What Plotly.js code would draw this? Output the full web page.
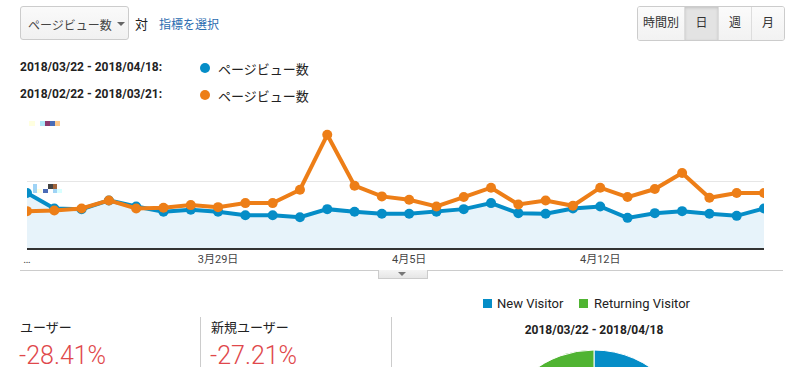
<!DOCTYPE html>
<html><head><meta charset="utf-8">
<script src="https://cdn.plot.ly/plotly-3.0.1.min.js"></script>
<style>
html,body{margin:0;padding:0;width:802px;height:367px;overflow:hidden;background:#fff;font-family:Roboto,"Noto Sans CJK JP",Arial,sans-serif;color:#222;}
.abs{position:absolute;white-space:nowrap;}
#dd{left:20px;top:6px;width:107px;height:32px;border:1px solid #ccc;border-radius:3px;background:linear-gradient(#fafafa,#f1f1f1);font-size:12px;color:#444;}
#dd span{position:absolute;left:7px;top:9px;}
#dd i{position:absolute;left:96px;top:15px;width:0;height:0;border-left:4px solid transparent;border-right:4px solid transparent;border-top:4px solid #666;}
#btns{left:637px;top:6px;height:33px;border:1px solid #ccc;border-radius:3px;display:flex;overflow:hidden;font-size:12px;color:#333;}
#btns div{height:33px;line-height:33px;text-align:center;border-left:1px solid #ddd;background:linear-gradient(#fbfbfb,#f2f2f2);}
#btns div:first-child{border-left:none;}
#btns div.on{background:#e3e3e3;box-shadow:inset 0 1px 3px rgba(0,0,0,.15);}
.dl{font-size:12px;font-weight:bold;color:#222;}
.dot{width:10px;height:10px;border-radius:50%;}
.lg{font-size:13px;color:#222;}
.px{position:absolute;}
.big{font-size:25px;line-height:20px;color:#e0484b;font-weight:300;}
</style></head>
<body>
<div id="dd" class="abs"><span>ページビュー数</span><i></i></div>
<div class="abs" style="left:135px;top:14px;font-size:13px;color:#222;">対</div>
<div class="abs" style="left:159px;top:15px;font-size:12px;color:#2b6cb0;">指標を選択</div>
<div id="btns" class="abs"><div style="width:46px">時間別</div><div class="on" style="width:33px">日</div><div style="width:32px">週</div><div style="width:32px">月</div></div>

<div class="abs dl" style="left:20px;top:60px;">2018/03/22 - 2018/04/18:</div>
<div class="abs dot" style="left:200px;top:63px;background:#058dc7;"></div>
<div class="abs lg" style="left:218px;top:59px;">ページビュー数</div>
<div class="abs dl" style="left:20px;top:87px;">2018/02/22 - 2018/03/21:</div>
<div class="abs dot" style="left:200px;top:90px;background:#ed7e17;"></div>
<div class="abs lg" style="left:218px;top:86px;">ページビュー数</div>

<div id="chart" class="abs" style="left:0;top:100px;width:802px;height:170px;"></div>

<!-- obfuscated axis labels -->
<div class="px" style="left:29px;top:121px;width:6px;height:5px;background:#ffffe0"></div>
<div class="px" style="left:40px;top:121px;width:5px;height:5px;background:#aee6f8"></div>
<div class="px" style="left:45px;top:121px;width:5px;height:5px;background:#8b3a6e"></div>
<div class="px" style="left:50px;top:121px;width:5px;height:5px;background:#4b6cb7"></div>
<div class="px" style="left:55px;top:121px;width:5px;height:5px;background:#ffc98b"></div>
<div class="px" style="left:33px;top:184px;width:4px;height:9px;background:#9fd3f5"></div>
<div class="px" style="left:37px;top:189px;width:5px;height:4px;background:#ffffe0"></div>
<div class="px" style="left:43px;top:189px;width:5px;height:4px;background:#4b6cb7"></div>
<div class="px" style="left:48px;top:184px;width:5px;height:5px;background:#444"></div>
<div class="px" style="left:53px;top:184px;width:4px;height:5px;background:#a0643c"></div>
<div class="px" style="left:53px;top:189px;width:4px;height:4px;background:#9fd3f5"></div>
<div class="px" style="left:57px;top:189px;width:5px;height:4px;background:#d8ffff"></div>

<div class="px" style="left:20px;top:270px;width:763px;height:1px;background:#ccc"></div>
<div class="px" style="left:378px;top:270px;width:48px;height:8px;background:linear-gradient(#f4f4f4,#e6e6e6);border:1px solid #ccc;border-top:none;"></div>
<div class="px" style="left:398px;top:272px;width:0;height:0;border-left:4px solid transparent;border-right:4px solid transparent;border-top:4px solid #777;"></div>

<div class="abs" style="left:20px;top:317px;font-size:13px;color:#222;">ユーザー</div>
<div class="abs big" style="left:19px;top:346px;">-28.41%</div>
<div class="px" style="left:200px;top:317px;width:1px;height:50px;background:#ccc"></div>
<div class="abs" style="left:211px;top:317px;font-size:13px;color:#222;">新規ユーザー</div>
<div class="abs big" style="left:210px;top:346px;">-27.21%</div>
<div class="px" style="left:391px;top:317px;width:1px;height:50px;background:#ccc"></div>

<div class="px" style="left:483px;top:299px;width:9px;height:9px;background:#058dc7"></div>
<div class="abs" style="left:497px;top:296px;font-size:13px;color:#222;">New Visitor</div>
<div class="px" style="left:579px;top:299px;width:9px;height:9px;background:#50b432"></div>
<div class="abs" style="left:594px;top:296px;font-size:13px;color:#222;">Returning Visitor</div>
<div class="abs dl" style="left:594px;top:323px;transform:translateX(-50%);">2018/03/22 - 2018/04/18</div>
<div id="pie" class="abs" style="left:494px;top:350px;width:200px;height:200px;"></div>

<script>
const dates = ["2018-03-22","2018-03-23","2018-03-24","2018-03-25","2018-03-26","2018-03-27","2018-03-28","2018-03-29","2018-03-30","2018-03-31","2018-04-01","2018-04-02","2018-04-03","2018-04-04","2018-04-05","2018-04-06","2018-04-07","2018-04-08","2018-04-09","2018-04-10","2018-04-11","2018-04-12","2018-04-13","2018-04-14","2018-04-15","2018-04-16","2018-04-17","2018-04-18"];
const currentViews = [82,59,58,71,62,54,57,54,49,49,46,58,54,51,51,54,58,67,52,51,59,62,45,52,55,51,48,59];
const previousViews = [55,56,59,71,59,60,64,61,67,67,87,169,93,77,72,62,76,90,65,71,63,90,76,88,112,75,82,82];
const tickDates = ["2018-03-22","2018-03-29","2018-04-05","2018-04-12"];
const tickLabels = ["…","3月29日","4月5日","4月12日"];
const pieLabels = ["New Visitor","Returning Visitor"];
const pieValues = [78,22];

Plotly.newPlot('chart', [
  {x: dates, y: currentViews, type:'scatter', mode:'lines+markers', fill:'tozeroy', fillcolor:'#e7f3fa',
   line:{color:'#058dc7', width:4}, marker:{color:'#058dc7', size:10}, hoverinfo:'none'},
  {x: dates, y: previousViews, type:'scatter', mode:'lines+markers',
   line:{color:'#ed7e17', width:4}, marker:{color:'#ed7e17', size:10}, hoverinfo:'none'}
], {
  width:802, height:170, margin:{l:27, r:38, t:14, b:22},
  paper_bgcolor:'rgba(0,0,0,0)', plot_bgcolor:'rgba(0,0,0,0)', showlegend:false,
  xaxis:{type:'date', range:[dates[0], dates[dates.length-1]], tickvals:tickDates, ticktext:tickLabels,
    showgrid:false, zeroline:false, showline:true, linecolor:'#333', linewidth:2, ticks:'',
    tickfont:{family:'Roboto, "Noto Sans CJK JP", Arial', size:11, color:'#444'}},
  yaxis:{range:[0,200], tickvals:[100,200], showticklabels:false, gridcolor:'#e6e6e6', gridwidth:1, zeroline:false, fixedrange:true}
}, {displayModeBar:false, staticPlot:true});

Plotly.newPlot('pie', [{type:'pie', labels:pieLabels, values:pieValues, sort:false, direction:'clockwise', rotation:0,
  marker:{colors:['#058dc7','#50b432'], line:{color:'#fff', width:1}}, textinfo:'none', hoverinfo:'none'}],
  {width:200, height:200, margin:{l:0,r:0,t:0,b:0}, showlegend:false, paper_bgcolor:'rgba(0,0,0,0)'},
  {displayModeBar:false, staticPlot:true});
</script>
</body></html>
